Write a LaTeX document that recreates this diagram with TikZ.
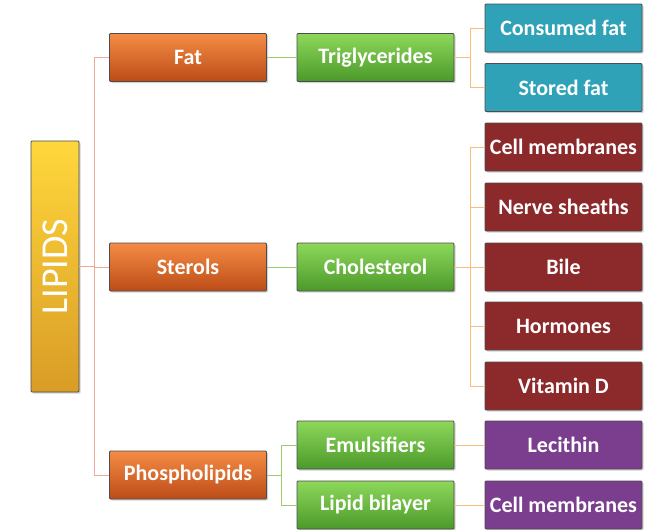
\documentclass[tikz,border=0pt]{standalone}
\usepackage{fontspec}
\setmainfont{Carlito}
\usepackage{xcolor}
\usetikzlibrary{shadows}

\definecolor{lipidtop}{HTML}{FFD73C}
\definecolor{lipidbot}{HTML}{D99C26}
\definecolor{orgtop}{HTML}{F58C45}
\definecolor{orgbot}{HTML}{BC4C17}
\definecolor{grntop}{HTML}{8DD85B}
\definecolor{grnbot}{HTML}{4B992A}
\definecolor{tealbox}{HTML}{2FA2B8}
\definecolor{redbox}{HTML}{8C292B}
\definecolor{purplebox}{HTML}{7B3E8E}
\definecolor{salmonline}{HTML}{F3A797}
\definecolor{greenline}{HTML}{9CCB6B}
\definecolor{orangeline}{HTML}{F8BC7C}

\begin{document}
\begin{tikzpicture}[x=1pt,y=-1pt,
    box/.style={draw=black!70, line width=0.8pt, rounded corners=1pt,
        minimum width=157pt, minimum height=48pt, inner sep=0pt, text=white,
        font=\fontsize{22}{24}\selectfont\bfseries,
        drop shadow={shadow xshift=1.5pt, shadow yshift=-1.5pt, opacity=0.35}},
    kind/.style={box, top color=orgtop, bottom color=orgbot},
    sub/.style={box, top color=grntop, bottom color=grnbot},
    leaf/.style={box, fill=#1},
    link/.style={draw=#1, line width=1pt}]
\useasboundingbox (0,0) rectangle (646,530);

% main title
\node[draw=black!70, line width=0.8pt, rounded corners=1pt, top color=lipidtop, bottom color=lipidbot,
    minimum width=48pt, minimum height=251pt, inner sep=0pt,
    drop shadow={shadow xshift=1.5pt, shadow yshift=-1.5pt, opacity=0.35}]
    (lipids) at (55,266.5) {};
\node[rotate=90, text=white, font=\fontsize{38}{40}\selectfont] at (lipids.center) {LIPIDS};

% kinds of lipids
\node[kind] (fat) at (188,57.5) {Fat};
\node[kind] (sterols) at (188,267) {Sterols};
\node[kind] (phos) at (188,475) {Phospholipids};

\node[sub] (trig) at (375.5,57.5) {Triglycerides};
\node[sub] (chol) at (375.5,267) {Cholesterol};
\node[sub] (emul) at (375.5,445) {Emulsifiers};
\node[sub] (bilayer) at (375.5,505) {Lipid bilayer};

% right column
\node[leaf=tealbox] (consumed) at (563.5,28) {Consumed fat};
\node[leaf=tealbox] (stored) at (563.5,87.5) {Stored fat};
\node[leaf=redbox] (cellm) at (563.5,147) {Cell membranes};
\node[leaf=redbox] (nerve) at (563.5,207) {Nerve sheaths};
\node[leaf=redbox] (bile) at (563.5,267) {Bile};
\node[leaf=redbox] (hormones) at (563.5,326) {Hormones};
\node[leaf=redbox] (vitd) at (563.5,386) {Vitamin D};
\node[leaf=purplebox] (lecithin) at (563.5,445) {Lecithin};
\node[leaf=purplebox] (cellm2) at (563.5,505) {Cell membranes};

% connectors
\coordinate (spine) at (94,0);
\draw[link=salmonline] (lipids.east) -- (lipids.east -| spine);
\draw[link=salmonline] (fat.west) -| (spine |- phos.west) -- (phos.west);
\draw[link=salmonline] (sterols.west) -- (sterols.west -| spine);

\draw[link=greenline] (fat) -- (trig);
\draw[link=greenline] (sterols) -- (chol);
\draw[link=greenline] (phos.east) -- ++(15,0) coordinate (pfork);
\draw[link=greenline] (emul.west) -| (pfork) |- (bilayer.west);

\draw[link=orangeline] (trig.east) -- ++(16,0) coordinate (tfork);
\draw[link=orangeline] (consumed.west) -| (tfork) |- (stored.west);
\draw[link=orangeline] (chol.east) -- ++(16,0) coordinate (cfork);
\draw[link=orangeline] (cellm.west) -| (cfork) |- (vitd.west);
\draw[link=orangeline] (nerve.west) -- (nerve.west -| cfork);
\draw[link=orangeline] (bile.west) -- (bile.west -| cfork);
\draw[link=orangeline] (hormones.west) -- (hormones.west -| cfork);
\draw[link=orangeline] (emul) -- (lecithin);
\draw[link=orangeline] (bilayer) -- (cellm2);
\end{tikzpicture}
\end{document}
